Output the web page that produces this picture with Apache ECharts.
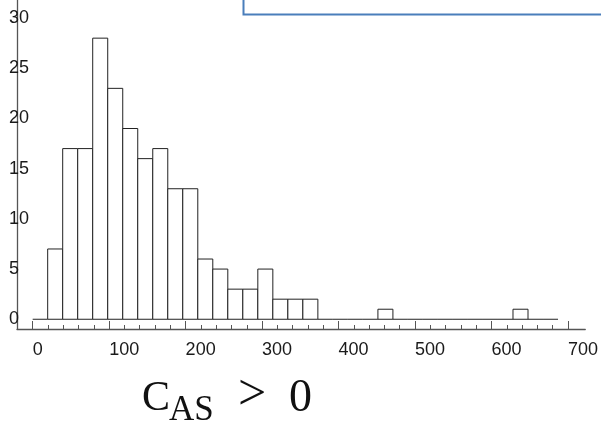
<!DOCTYPE html>
<html>
<head>
<meta charset="utf-8">
<script src="https://cdn.jsdelivr.net/npm/echarts@6/dist/echarts.min.js"></script>
<style>html,body{margin:0;padding:0;background:#fff;}#c{width:601px;height:428px;}</style>
</head>
<body>
<div id="c"></div>
<script>
// Histogram: 35 equal bins spanning 0..687
const histMin = 0;
const histMax = 687;
const counts = [0, 7, 17, 17, 28, 23, 19, 16, 17, 13, 13, 6, 5, 3, 3, 5, 2, 2, 2,
                0, 0, 0, 0, 1, 0, 0, 0, 0, 0, 0, 0, 0, 1, 0, 0];
const xTickLabels = [0, 100, 200, 300, 400, 500, 600, 700];
const xMinorTicks = [0,20,40,60,80,100,120,140,160,180,200,220,240,260,280,300,320,340,360,380,400,
                     420,440,460,480,500,520,540,560,580,600,620,640,660,680,700];
const yTickLabels = [0, 5, 10, 15, 20, 25, 30];

const binW = (histMax - histMin) / counts.length;
const binData = counts.map((c, i) => [histMin + i * binW, histMin + (i + 1) * binW, c]);

const axisColor = '#555';
const labelFont = { fontFamily: 'Liberation Sans', fontSize: 18, color: '#1a1a1a' };

const chart = echarts.init(document.getElementById('c'), null, { renderer: 'canvas' });
chart.setOption({
  animation: false,
  backgroundColor: '#fff',
  grid: { left: 17, right: 14.3, top: 0, bottom: 99, containLabel: false },
  xAxis: [
    {
      type: 'value', min: -20.5, max: 722.6, position: 'bottom',
      axisLine: { show: true, onZero: false, lineStyle: { color: axisColor, width: 1.3 } },
      axisTick: { show: true, inside: true, length: 4, customValues: xMinorTicks, lineStyle: { color: axisColor, width: 1 } },
      axisLabel: Object.assign({ customValues: xTickLabels, align: 'left', margin: 12 }, labelFont),
      splitLine: { show: false }
    },
    {
      type: 'value', min: -20.5, max: 722.6, position: 'bottom', gridIndex: 0,
      axisLine: { show: false, onZero: false },
      axisTick: { show: true, inside: true, length: 8, customValues: xTickLabels, lineStyle: { color: axisColor, width: 1 } },
      axisLabel: { show: false },
      splitLine: { show: false }
    }
  ],
  yAxis: {
    type: 'value', min: -0.97, max: 31.8,
    axisLine: { show: true, onZero: false, lineStyle: { color: axisColor, width: 1.3 } },
    axisTick: { show: false },
    axisLabel: Object.assign({ customValues: yTickLabels, align: 'left', margin: 8 }, labelFont),
    splitLine: { show: false }
  },
  series: [{
    type: 'custom',
    xAxisIndex: 0,
    data: binData,
    encode: { x: [0, 1], y: 2 },
    renderItem: function (params, api) {
      const x0 = api.value(0), x1 = api.value(1), c = api.value(2);
      const p0 = api.coord([x0, 0]);
      const p1 = api.coord([x1, c]);
      if (c === 0) {
        return { type: 'line', shape: { x1: p0[0], y1: p0[1], x2: p1[0], y2: p0[1] },
                 style: { stroke: '#222', lineWidth: 1 } };
      }
      return { type: 'rect',
               shape: { x: p0[0], y: p1[1], width: p1[0] - p0[0], height: p0[1] - p1[1] },
               style: { fill: '#fff', stroke: '#222', lineWidth: 1 } };
    }
  }],
  graphic: [
    { type: 'rect', shape: { x: 243.5, y: -10, width: 400, height: 24.5 },
      style: { fill: 'none', stroke: '#4a7ebb', lineWidth: 2 } },
    { type: 'text', x: 142, y: 399, style: { text: 'C', font: '42px "Liberation Serif"', fill: '#111', align: 'left', verticalAlign: 'middle' } },
    { type: 'text', x: 169, y: 411, style: { text: 'AS', font: '35px "Liberation Serif"', fill: '#111', align: 'left', verticalAlign: 'middle' } },
    { type: 'text', x: 238, y: 396, style: { text: '>', font: '50px "Liberation Serif"', fill: '#111', align: 'left', verticalAlign: 'middle' } },
    { type: 'text', x: 289, y: 399, style: { text: '0', font: '46px "Liberation Serif"', fill: '#111', align: 'left', verticalAlign: 'middle' } }
  ]
});
</script>
</body>
</html>
